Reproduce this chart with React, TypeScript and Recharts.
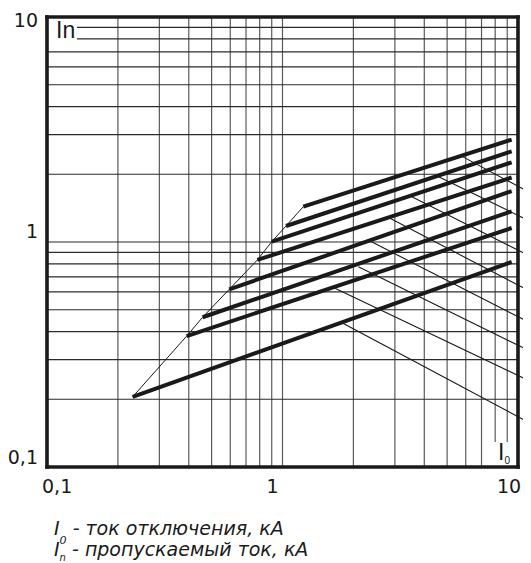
import React from "react";
import { LineChart, Line, XAxis, YAxis, ReferenceLine } from "recharts";

// Axis ticks (log scale)
const X_TICKS = [0.1, 1, 10];
const Y_TICKS = [0.1, 1, 10];

// Grid lines
const GRID_X_FULL = [0.2, 0.3, 0.4, 0.5, 0.6, 0.7, 0.8, 0.9, 1, 2, 3, 4, 5, 6, 7];
const GRID_X_SHORT = [8, 9];
const GRID_Y_FULL = [0.2, 0.3, 0.4, 0.5, 0.6, 0.7, 0.8, 0.9, 1, 2, 3, 4, 5, 6, 7];
const GRID_Y_SHORT = [8, 9];
const GRID_Y_SHORT_FROM = 0.134; // x where the 8 and 9 lines begin (after "In")
const GRID_X_SHORT_FROM = 0.129; // y where the 8 and 9 lines begin (above "I0")

// Characteristic curves (thick lines): start point on envelope, end near I0 = 10
const CURVE_START_X = [1.225, 1.035, 0.9, 0.782, 0.594, 0.458, 0.392, 0.231];
const CURVE_START_Y = [1.435, 1.178, 1.003, 0.832, 0.616, 0.463, 0.382, 0.205];
const CURVE_END_X = 9.4;
const CURVE_END_Y = [2.85, 2.53, 2.26, 1.935, 1.685, 1.369, 1.154, 0.815];

// Leader lines (thin) going to the right edge
const LEADER_START_X = [5.84, 4.53, 3.54, 2.86, 2.31, 2.1, 1.67, 1.78];
const LEADER_START_Y = [2.39, 1.965, 1.589, 1.274, 1.02, 0.777, 0.623, 0.439];
const LEADER_END_X = 11.36;
const LEADER_END_Y = [1.646, 1.231, 0.86, 0.601, 0.435, 0.3255, 0.2394, 0.1557];

const W = 523;
const H = 555;
const TICK_FONT = "'DejaVu Sans', Verdana, sans-serif";

const curves = CURVE_START_X.map((sx, i) => [
  { x: sx, y: CURVE_START_Y[i] },
  { x: CURVE_END_X, y: CURVE_END_Y[i] },
]);

const envelope = CURVE_START_X.map((sx, i) => ({ x: sx, y: CURVE_START_Y[i] })).sort(
  (a, b) => a.x - b.x
);

const XTick = (props: any) => {
  const { x, y, payload } = props;
  const v = payload.value;
  let anchor: "start" | "middle" | "end" = "middle";
  let dx = 0;
  if (v === 0.1) {
    anchor = "start";
    dx = -5;
  } else if (v === 1) {
    dx = -10;
  } else {
    dx = -9;
  }
  return (
    <text x={x + dx} y={y + 26} textAnchor={anchor} fontFamily={TICK_FONT} fontSize={19} fill="#1a1a1a">
      {v === 0.1 ? "0,1" : String(v)}
    </text>
  );
};

const YTick = (props: any) => {
  const { x, y, payload } = props;
  const v = payload.value;
  let dy = -3;
  if (v === 10) dy = 9.7;
  else if (v === 1) dy = -3.7;
  return (
    <text x={x - 9} y={y + dy} textAnchor="end" fontFamily={TICK_FONT} fontSize={19} fill="#1a1a1a">
      {v === 0.1 ? "0,1" : String(v)}
    </text>
  );
};

export default function App() {
  return (
    <div style={{ position: "relative", width: W, height: H }}>
      <style>{"html,body{overflow:hidden}"}</style>
      <LineChart width={W} height={H} margin={{ top: 9, right: 13, bottom: 66, left: 0 }}>
        <XAxis
          dataKey="x"
          type="number"
          scale="log"
          domain={[0.1, 10]}
          allowDataOverflow
          ticks={X_TICKS}
          tick={<XTick />}
          tickLine={false}
          axisLine={false}
          tickSize={0}
          tickMargin={0}
          height={30}
          interval={0}
        />
        <YAxis
          type="number"
          scale="log"
          domain={[0.1, 10]}
          allowDataOverflow
          ticks={Y_TICKS}
          tick={<YTick />}
          tickLine={false}
          axisLine={false}
          tickSize={0}
          tickMargin={0}
          width={39}
          interval={0}
        />
        {GRID_X_FULL.map((v) => (
          <ReferenceLine key={"gx" + v} x={v} stroke="#5a5a5a" strokeWidth={1.2} ifOverflow="visible" />
        ))}
        {GRID_X_SHORT.map((v) => (
          <ReferenceLine
            key={"gxs" + v}
            segment={[
              { x: v, y: GRID_X_SHORT_FROM },
              { x: v, y: 10 },
            ]}
            stroke="#5a5a5a"
            strokeWidth={1.2}
            ifOverflow="visible"
          />
        ))}
        {GRID_Y_FULL.map((v) => (
          <ReferenceLine key={"gy" + v} y={v} stroke="#2a2a2a" strokeWidth={1.2} ifOverflow="visible" />
        ))}
        {GRID_Y_SHORT.map((v) => (
          <ReferenceLine
            key={"gys" + v}
            segment={[
              { x: GRID_Y_SHORT_FROM, y: v },
              { x: 10, y: v },
            ]}
            stroke="#2a2a2a"
            strokeWidth={1.2}
            ifOverflow="visible"
          />
        ))}
        {LEADER_START_X.map((sx, i) => (
          <ReferenceLine
            key={"ld" + i}
            segment={[
              { x: sx, y: LEADER_START_Y[i] },
              { x: LEADER_END_X, y: LEADER_END_Y[i] },
            ]}
            stroke="#1a1a1a"
            strokeWidth={1.1}
            ifOverflow="visible"
          />
        ))}
        <Line
          data={envelope}
          dataKey="y"
          stroke="#1a1a1a"
          strokeWidth={1}
          dot={false}
          activeDot={false}
          isAnimationActive={false}
        />
        {curves.map((d, i) => (
          <Line
            key={"c" + i}
            data={d}
            dataKey="y"
            stroke="#1a1a1a"
            strokeWidth={4}
            dot={false}
            activeDot={false}
            isAnimationActive={false}
          />
        ))}
        <ReferenceLine x={0.1} stroke="#1a1a1a" strokeWidth={3.6} strokeLinecap="square" ifOverflow="visible" />
        <ReferenceLine x={10} stroke="#1a1a1a" strokeWidth={3.6} strokeLinecap="square" ifOverflow="visible" />
        <ReferenceLine y={0.1} stroke="#1a1a1a" strokeWidth={3.6} strokeLinecap="square" ifOverflow="visible" />
        <ReferenceLine y={10} stroke="#1a1a1a" strokeWidth={3.6} strokeLinecap="square" ifOverflow="visible" />
      </LineChart>
      <svg
        width={W}
        height={H}
        style={{ position: "absolute", left: 0, top: 0, pointerEvents: "none" }}
      >
        <text x={48} y={30.3} fontFamily="'Liberation Sans', Arial, sans-serif" fontSize={23} fill="#1a1a1a">
          In
        </text>
        <text x={490} y={452} fontFamily="'Liberation Sans', Arial, sans-serif" fontSize={23} fill="#1a1a1a">
          I
          <tspan fontSize={10} dy={4}>0</tspan>
        </text>
        <text x={46} y={527} fontFamily={TICK_FONT} fontStyle="italic" fontSize={19} fill="#1a1a1a">
          I
          <tspan fontSize={11} dy={9}>0</tspan>
          <tspan dy={-9}> - ток отключения, кА</tspan>
        </text>
        <text x={46} y={548} fontFamily={TICK_FONT} fontStyle="italic" fontSize={19} fill="#1a1a1a">
          I
          <tspan fontSize={10} dy={5}>n</tspan>
          <tspan dy={-5}> - пропускаемый ток, кА</tspan>
        </text>
      </svg>
    </div>
  );
}
